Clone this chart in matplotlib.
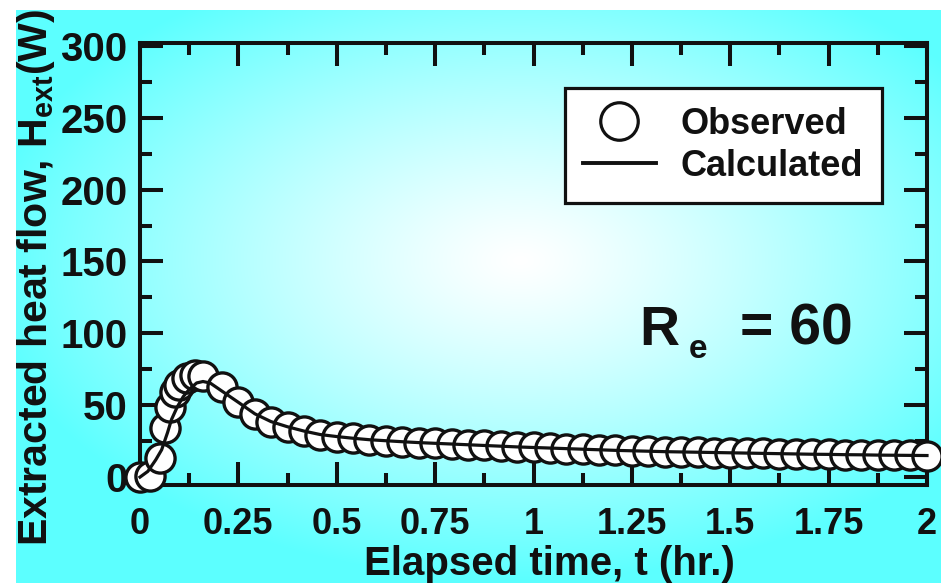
import numpy as np
import matplotlib
matplotlib.use("Agg")
import matplotlib.pyplot as plt
from matplotlib.lines import Line2D

plt.rcParams['font.family'] = ['Liberation Sans', 'DejaVu Sans']
plt.rcParams['font.weight'] = 'bold'
plt.rcParams['axes.labelweight'] = 'bold'
plt.rcParams['mathtext.fontset'] = 'custom'
plt.rcParams['mathtext.rm'] = 'Liberation Sans:bold'
plt.rcParams['mathtext.it'] = 'Liberation Sans:bold'
plt.rcParams['mathtext.bf'] = 'Liberation Sans:bold'

# observed heat flow (W) vs elapsed time (hr)
t_obs_head = [0, 0.025, 0.051, 0.064, 0.076, 0.089, 0.100, 0.119, 0.140, 0.160]
h_obs_head = [0, 1, 13.5, 34, 49, 59, 64, 69, 71, 70]
t_tail = [0.208, 0.250, 0.292, 0.333, 0.375, 0.417, 0.458, 0.500, 0.542, 0.583,
          0.625, 0.667, 0.708, 0.750, 0.792, 0.833, 0.875, 0.917, 0.958, 1.000,
          1.042, 1.083, 1.125, 1.167, 1.208, 1.250, 1.292, 1.333, 1.375, 1.417,
          1.458, 1.500, 1.542, 1.583, 1.625, 1.667, 1.708, 1.750, 1.792, 1.833,
          1.875, 1.917, 1.958, 2.000]
h_tail = [63, 52, 44, 38.6, 35, 32, 29.6, 28.2, 27, 26,
          25.3, 24.6, 24, 23.5, 23, 22.5, 22, 21.5, 21, 20.6,
          20.2, 19.8, 19.4, 19.0, 18.6, 18.3, 18.0, 17.7, 17.5, 17.3,
          17.1, 16.9, 16.7, 16.5, 16.3, 16.1, 15.9, 15.8, 15.6, 15.5,
          15.3, 15.2, 15.1, 15.0]

# calculated curve (rises a bit later / lower peak)
t_calc_head = [0, 0.02, 0.04, 0.055, 0.07, 0.08, 0.095, 0.11, 0.125, 0.144, 0.16, 0.178]
h_calc_head = [0, 4, 12, 19, 31, 40, 49, 56, 61, 65.5, 66.5, 65.5]

t_obs = t_obs_head + t_tail
h_obs = h_obs_head + h_tail
t_calc = t_calc_head + t_tail[1:]
h_calc = h_calc_head + h_tail[1:]

xticks = [0, 0.25, 0.5, 0.75, 1, 1.25, 1.5, 1.75, 2]
xticklabels = ["0", "0.25", "0.5", "0.75", "1", "1.25", "1.5", "1.75", "2"]
yticks = [0, 50, 100, 150, 200, 250, 300]

W, H = 941, 583
fig = plt.figure(figsize=(W / 100, H / 100), dpi=100)

# cyan radial background
bg = fig.add_axes([16 / W, 0, 1 - 16 / W, 1 - 10 / H], zorder=0)
gx, gy = np.meshgrid(np.arange(16, W), np.arange(10, H))
r = np.sqrt(((gx - 520) / 540.0) ** 2 + ((gy - 260) / 320.0) ** 2)
r = np.clip(r, 0, 1) ** 1.2
img = np.ones((gy.shape[0], gy.shape[1], 3))
img[..., 0] = 1 - (1 - 92 / 255) * r
bg.imshow(img, aspect='auto', interpolation='bilinear')
bg.axis('off')

ax = fig.add_axes([140 / W, (H - 485) / H, (927 - 140) / W, (485 - 43) / H], zorder=1)
ax.set_facecolor('none')

ink = '#111111'
ax.plot(t_obs, h_obs, 'o', ms=21, mfc='white', mec=ink, mew=2.4,
        clip_on=False, zorder=3)
ax.plot(t_calc, h_calc, '-', color=ink, lw=2.3, clip_on=False, zorder=4)

ax.set_xlim(0, 2)
ax.set_ylim(-5.5, 302)
ax.set_xticks(xticks)
ax.set_xticklabels(xticklabels)
ax.set_xticks(np.arange(0.125, 2, 0.25), minor=True)
ax.set_yticks(yticks)
ax.set_yticks(np.arange(25, 300, 50), minor=True)

for s in ax.spines.values():
    s.set_linewidth(2.9)
    s.set_color(ink)
ax.tick_params(which='both', direction='in', top=True, right=True,
               color=ink, width=2.9)
ax.tick_params(which='major', length=16.5)
ax.tick_params(which='minor', length=8.5)
ax.tick_params(axis='x', labelsize=26, pad=16, labelcolor=ink)
ax.tick_params(axis='y', labelsize=29, pad=9, labelcolor=ink)

ax.set_xlabel("Elapsed time, t (hr.)", fontsize=29, color=ink)
ax.xaxis.set_label_coords(0.52, -0.136)
ax.set_ylabel(r"Extracted heat flow, H$_{\mathrm{ext}}$(W)", fontsize=29.5, color=ink)
ax.yaxis.set_label_coords(-0.105, 0.47)

ax.text(0.635, 0.317, "R", transform=ax.transAxes, fontsize=40,
        color=ink, va='baseline')
ax.text(0.697, 0.288, "e", transform=ax.transAxes, fontsize=24,
        color=ink, va='baseline')
ax.text(0.762, 0.317, "= 60", transform=ax.transAxes, fontsize=41,
        color=ink, va='baseline')

handles = [Line2D([], [], ls='none', marker='o', ms=27, mfc='white', mec=ink, mew=2.3),
           Line2D([], [], color=ink, lw=2.8)]
leg = ax.legend(handles, ["Observed", "Calculated"], loc='upper right',
                bbox_to_anchor=(0.943, 0.898), borderaxespad=0, fontsize=26,
                frameon=True, fancybox=False, handlelength=2.0,
                handletextpad=0.7, labelspacing=0.2, borderpad=0.52)
leg.get_frame().set_edgecolor(ink)
leg.get_frame().set_linewidth(2.3)
leg.get_frame().set_alpha(1)
for tx in leg.get_texts():
    tx.set_color(ink)

fig.savefig("out.png", dpi=100)
